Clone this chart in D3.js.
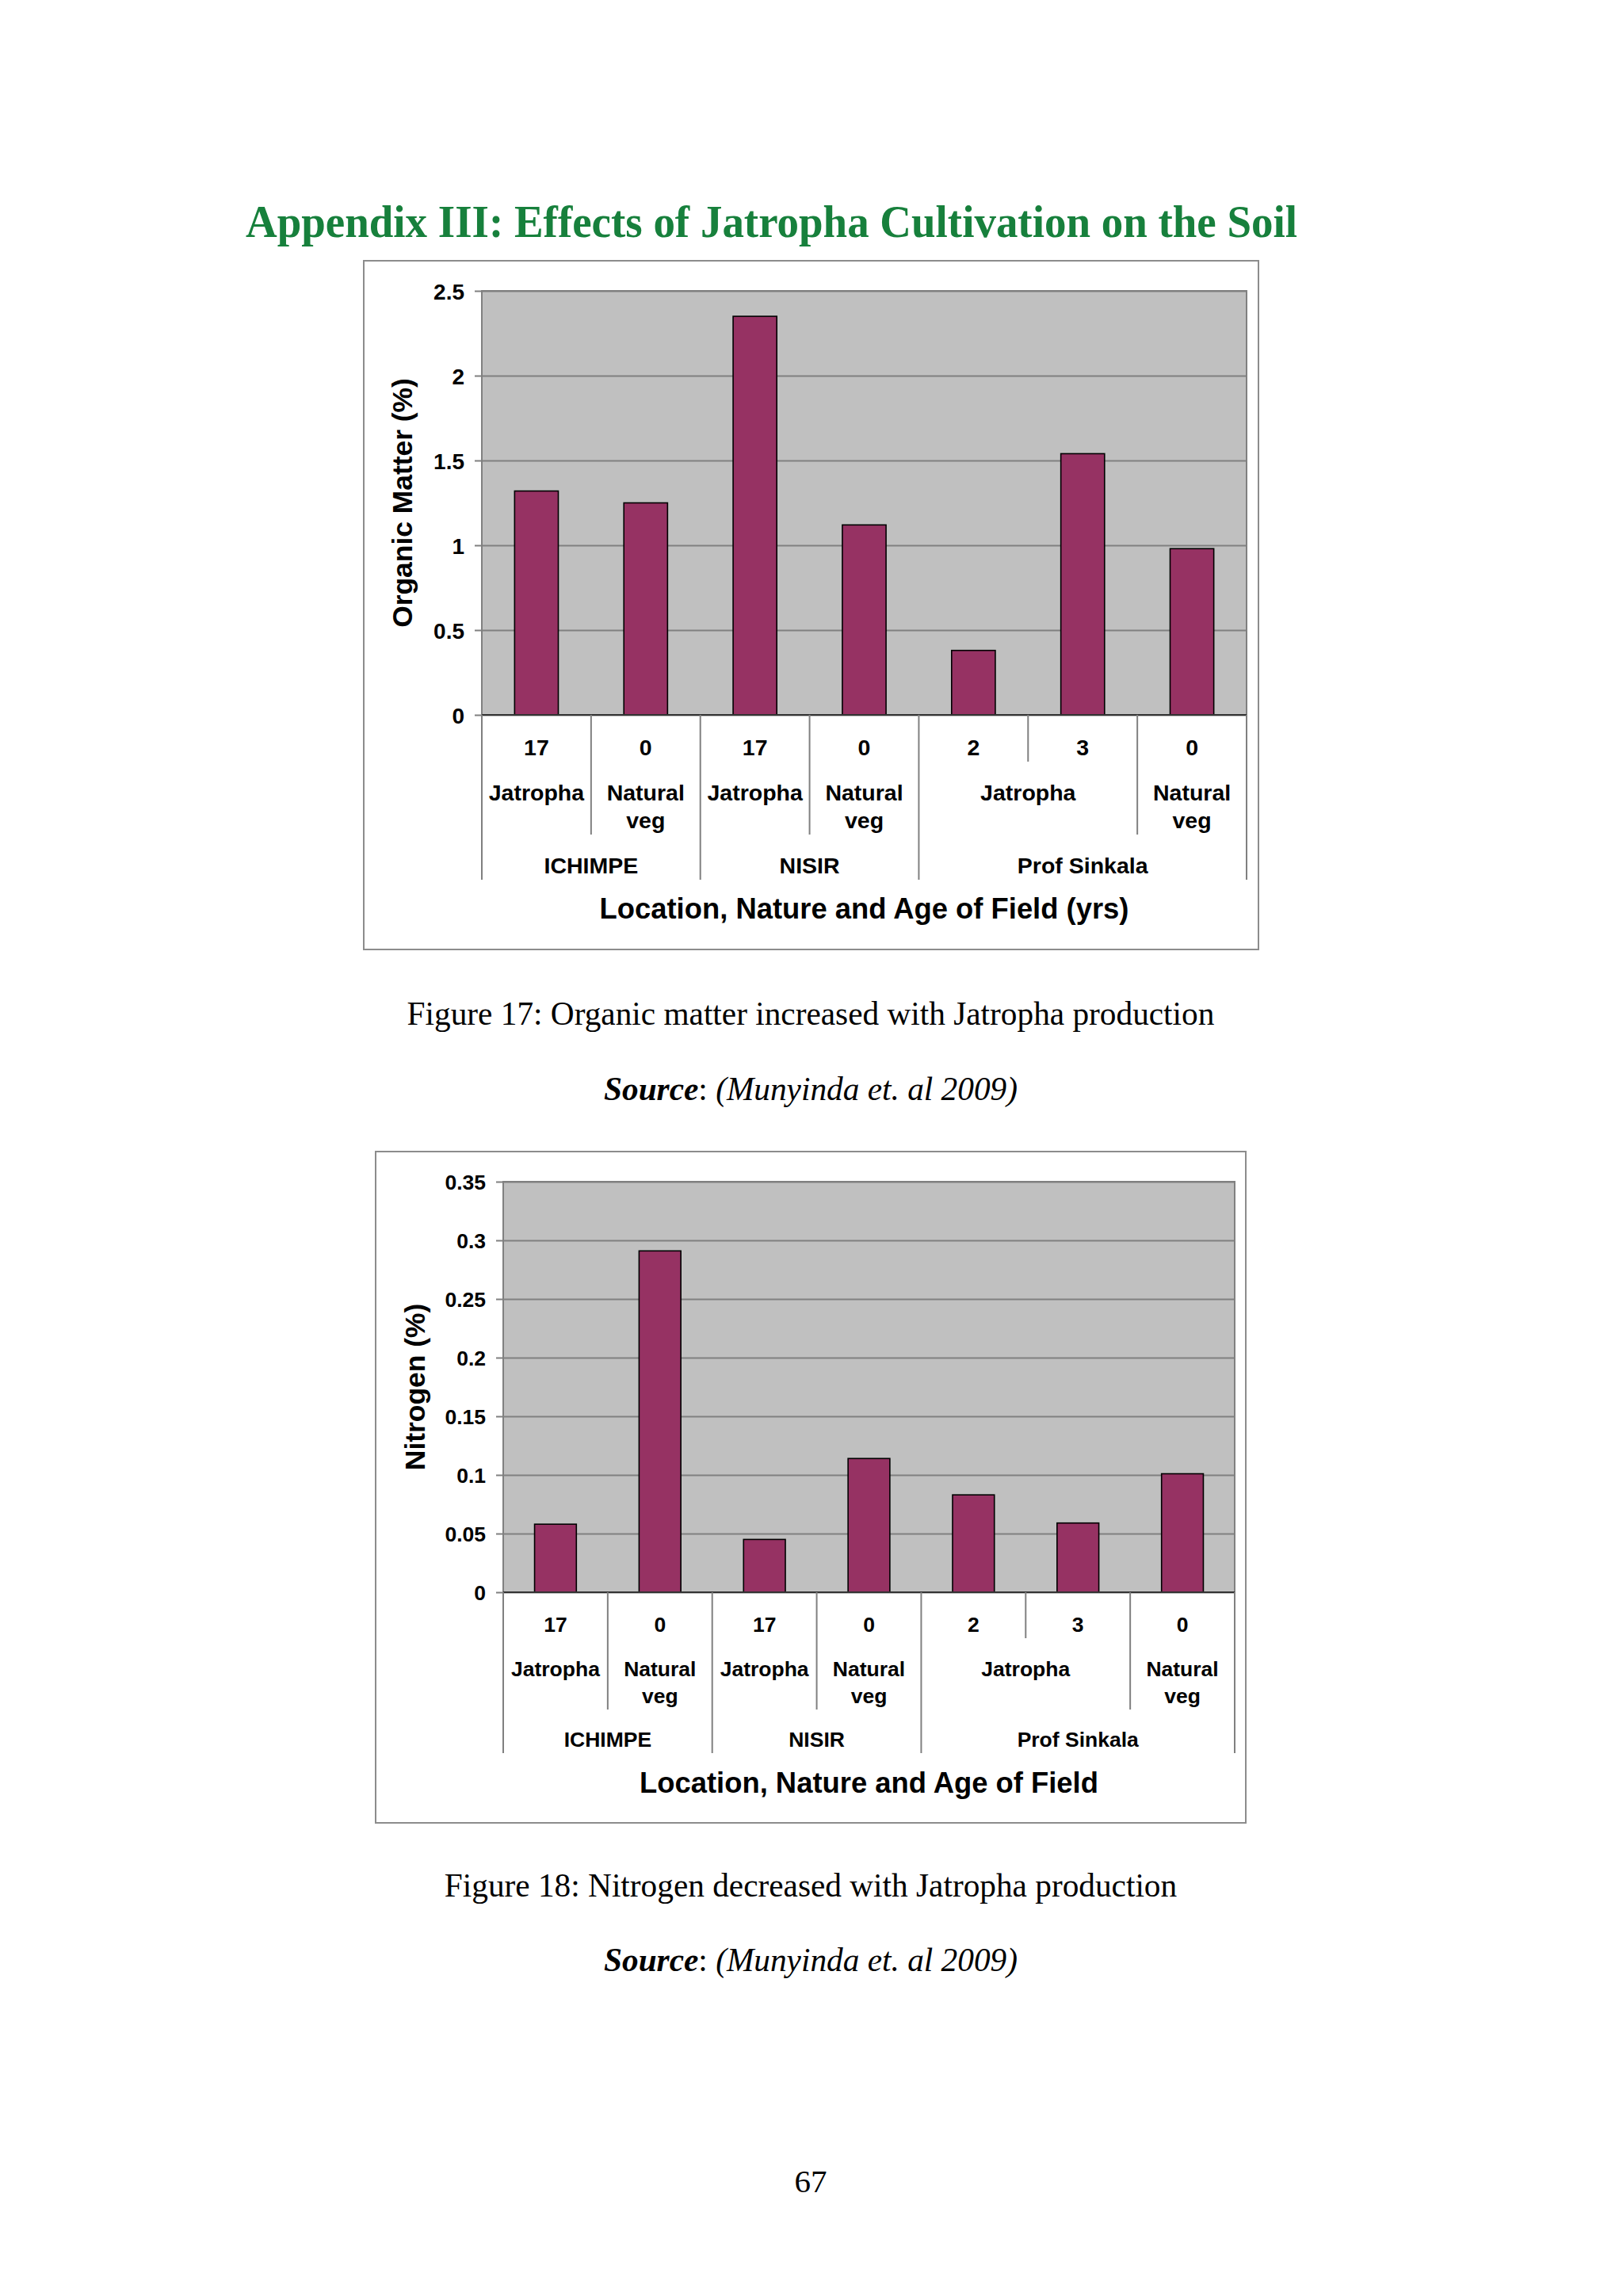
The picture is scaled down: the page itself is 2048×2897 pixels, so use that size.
<!DOCTYPE html>
<html>
<head>
<meta charset="utf-8">
<script src="https://cdn.jsdelivr.net/npm/d3@7"></script>
<style>
  html, body { margin: 0; padding: 0; background: #ffffff; }
  svg { display: block; }
</style>
</head>
<body>
<svg id="page" width="2048" height="2897"></svg>
<script>
// ---------------- DATA ----------------
const pageTitle = "Appendix III: Effects of Jatropha Cultivation on the Soil";

const ages      = ["17", "0", "17", "0", "2", "3", "0"];
const natures   = ["Jatropha", "Natural veg", "Jatropha", "Natural veg", "Jatropha", "Jatropha", "Natural veg"];
const locations = ["ICHIMPE", "ICHIMPE", "NISIR", "NISIR", "Prof Sinkala", "Prof Sinkala", "Prof Sinkala"];

const organicMatter = [1.32, 1.25, 2.35, 1.12, 0.38, 1.54, 0.98];
const nitrogen      = [0.058, 0.291, 0.045, 0.114, 0.083, 0.059, 0.101];

const omTicks = [0, 0.5, 1, 1.5, 2, 2.5];
const nTicks  = [0, 0.05, 0.1, 0.15, 0.2, 0.25, 0.3, 0.35];

const omYTitle = "Organic Matter (%)";
const nYTitle  = "Nitrogen (%)";
const omXTitle = "Location, Nature and Age of Field (yrs)";
const nXTitle  = "Location, Nature and Age of Field";

const caption1 = "Figure 17: Organic matter increased with Jatropha production";
const caption2 = "Figure 18: Nitrogen decreased with Jatropha production";
const sourceBold = "Source";
const sourceRest = "(Munyinda et. al 2009)";
const pageNumber = "67";

// ---------------- STYLE ----------------
const SANS = "'Liberation Sans', Arial, Helvetica, sans-serif";
const SERIF = "'Liberation Serif', 'Times New Roman', Times, serif";
const BAR_FILL = "#963263";
const PLOT_BG = "#c0c0c0";
const GRID = "#808080";

const svg = d3.select("#page");

// page title
svg.append("text")
  .attr("x", 310).attr("y", 299)
  .attr("font-family", SERIF).attr("font-weight", "bold")
  .attr("font-size", 56).attr("fill", "#17803c")
  .attr("textLength", 1327).attr("lengthAdjust", "spacingAndGlyphs")
  .text(pageTitle);

function caption(text, y) {
  svg.append("text")
    .attr("x", 1023).attr("y", y)
    .attr("text-anchor", "middle")
    .attr("font-family", SERIF).attr("font-size", 41.3).attr("fill", "#000")
    .text(text);
}
function source(y) {
  const t = svg.append("text")
    .attr("x", 1023).attr("y", y)
    .attr("text-anchor", "middle")
    .attr("font-family", SERIF).attr("font-size", 41.3).attr("fill", "#000");
  t.append("tspan").attr("font-weight", "bold").attr("font-style", "italic").text(sourceBold);
  t.append("tspan").text(": ");
  t.append("tspan").attr("font-style", "italic").text(sourceRest);
}

function drawChart(cfg) {
  const g = svg.append("g");
  // outer box
  g.append("rect")
    .attr("x", cfg.box.x).attr("y", cfg.box.y)
    .attr("width", cfg.box.w).attr("height", cfg.box.h)
    .attr("fill", "#ffffff").attr("stroke", "#8c8c8c").attr("stroke-width", 2);

  const p = cfg.plot;
  const x = d3.scaleBand().domain(d3.range(cfg.values.length))
    .range([p.x, p.x + p.w]).paddingInner(0.6).paddingOuter(0.3);
  const xc = d3.scaleBand().domain(d3.range(cfg.values.length))
    .range([p.x, p.x + p.w]).padding(0);
  const y = d3.scaleLinear().domain([0, cfg.ticks[cfg.ticks.length - 1]])
    .range([p.y + p.h, p.y]);

  // plot background
  g.append("rect")
    .attr("x", p.x).attr("y", p.y).attr("width", p.w).attr("height", p.h)
    .attr("fill", PLOT_BG).attr("stroke", GRID).attr("stroke-width", 2);

  // y axis with gridlines
  const yAxis = d3.axisLeft(y).tickValues(cfg.ticks)
    .tickFormat(d3.format("~g")).tickSize(-p.w).tickPadding(0);
  const ya = g.append("g").attr("transform", `translate(${p.x},0)`).call(yAxis);
  ya.select(".domain").remove();
  ya.selectAll(".tick line").attr("stroke", GRID).attr("stroke-width", 2)
    .attr("x1", -9);
  ya.selectAll(".tick text")
    .attr("x", -22)
    .attr("dy", "0.36em")
    .attr("font-family", SANS).attr("font-weight", "bold")
    .attr("font-size", cfg.ytickSize).attr("fill", "#000");
  // left axis line
  g.append("line").attr("x1", p.x).attr("x2", p.x)
    .attr("y1", p.y).attr("y2", p.y + p.h)
    .attr("stroke", GRID).attr("stroke-width", 2);

  // bars
  g.append("g").selectAll("rect").data(cfg.values).join("rect")
    .attr("x", (d, i) => x(i)).attr("width", x.bandwidth())
    .attr("y", d => y(d)).attr("height", d => y(0) - y(d))
    .attr("fill", BAR_FILL).attr("stroke", "#000").attr("stroke-width", 1.6);

  // x axis line
  g.append("line").attr("x1", p.x).attr("x2", p.x + p.w)
    .attr("y1", y(0)).attr("y2", y(0))
    .attr("stroke", "#333").attr("stroke-width", 2);

  // multi-level category axis
  const base = y(0);
  const n = cfg.values.length;
  const L = cfg.levels;
  const divider = (xpos, len) => g.append("line")
    .attr("x1", xpos).attr("x2", xpos).attr("y1", base).attr("y2", base + len)
    .attr("stroke", GRID).attr("stroke-width", 2);
  const labelFont = sel => sel.attr("font-family", SANS).attr("font-weight", "bold")
    .attr("font-size", cfg.xlabelSize).attr("fill", "#000").attr("text-anchor", "middle");

  // edges
  divider(xc(0), L.long);
  divider(xc(n - 1) + xc.bandwidth(), L.long);
  for (let i = 1; i < n; i++) {
    const xpos = xc(i);
    let len;
    if (locations[i] !== locations[i - 1]) len = L.long;
    else if (natures[i] !== natures[i - 1]) len = L.mid;
    else len = L.short;
    divider(xpos, len);
  }
  // ages
  ages.forEach((a, i) => {
    labelFont(g.append("text"))
      .attr("x", xc(i) + xc.bandwidth() / 2).attr("y", base + L.ageBase).text(a);
  });
  // nature spans
  let s = 0;
  for (let i = 1; i <= n; i++) {
    if (i === n || natures[i] !== natures[s] || locations[i] !== locations[s]) {
      const cx = (xc(s) + xc(i - 1) + xc.bandwidth()) / 2;
      const words = natures[s].split(" ");
      const t = labelFont(g.append("text")).attr("x", cx).attr("y", base + L.natureBase);
      words.forEach((w, k) => {
        t.append("tspan").attr("x", cx).attr("dy", k === 0 ? 0 : L.lineGap).text(w);
      });
      s = i;
    }
  }
  // location spans
  s = 0;
  for (let i = 1; i <= n; i++) {
    if (i === n || locations[i] !== locations[s]) {
      const cx = (xc(s) + xc(i - 1) + xc.bandwidth()) / 2;
      labelFont(g.append("text")).attr("x", cx).attr("y", base + L.locBase).text(locations[s]);
      s = i;
    }
  }
  // x title
  g.append("text")
    .attr("x", p.x + p.w / 2).attr("y", base + L.titleBase)
    .attr("text-anchor", "middle")
    .attr("font-family", SANS).attr("font-weight", "bold")
    .attr("font-size", 36.4).attr("fill", "#000")
    .text(cfg.xTitle);
  // y title
  g.append("text")
    .attr("transform", `translate(${cfg.yTitleX},${p.y + p.h / 2}) rotate(-90)`)
    .attr("text-anchor", "middle").attr("dy", "0.36em")
    .attr("font-family", SANS).attr("font-weight", "bold")
    .attr("font-size", 35.4).attr("fill", "#000")
    .text(cfg.yTitle);
}

drawChart({
  box: { x: 459, y: 329, w: 1129, h: 869 },
  plot: { x: 608, y: 367, w: 965, h: 535 },
  values: organicMatter, ticks: omTicks,
  ytickSize: 28, xlabelSize: 28.5,
  levels: { short: 59, mid: 151, long: 208, ageBase: 51, natureBase: 108, lineGap: 35, locBase: 200, titleBase: 257 },
  xTitle: omXTitle, yTitle: omYTitle, yTitleX: 507
});
caption(caption1, 1293);
source(1388);

drawChart({
  box: { x: 474, y: 1453, w: 1098, h: 847 },
  plot: { x: 635, y: 1491, w: 923, h: 518 },
  values: nitrogen, ticks: nTicks,
  ytickSize: 26.5, xlabelSize: 26.5,
  levels: { short: 58, mid: 148, long: 203, ageBase: 50, natureBase: 106, lineGap: 34, locBase: 195, titleBase: 253 },
  xTitle: nXTitle, yTitle: nYTitle, yTitleX: 523
});
caption(caption2, 2393);
source(2487);

svg.append("text")
  .attr("x", 1023).attr("y", 2766)
  .attr("text-anchor", "middle")
  .attr("font-family", SERIF).attr("font-size", 41).attr("fill", "#000")
  .text(pageNumber);
</script>
</body>
</html>
